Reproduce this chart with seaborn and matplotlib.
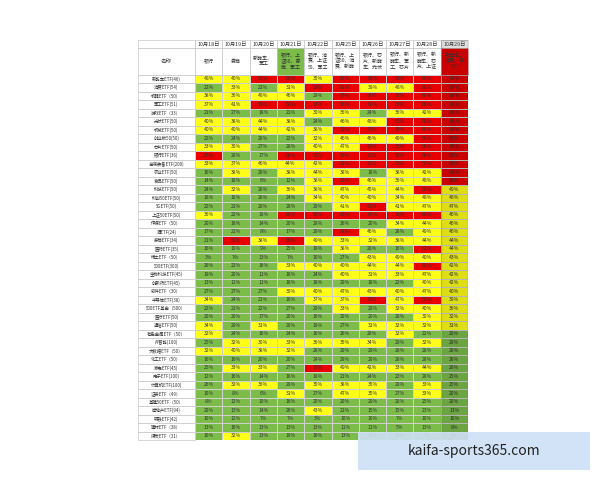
import matplotlib
matplotlib.use("Agg")
import matplotlib.pyplot as plt
import seaborn as sns
import numpy as np
import pandas as pd
from matplotlib.colors import ListedColormap, BoundaryNorm
from matplotlib.patches import Rectangle

dates = ["10月18日","10月19日","10月20日","10月21日","10月22日","10月25日","10月26日","10月27日","10月28日","10月29日"]
heads = ["银行","券商","新能车、\n军工","银行、上\n证50、券\n商、军工","银行、消\n费、上证\n50、军工","银行、上\n证50、消\n费、新能","银行、芯\n片、新能\n车、光伏","银行、新\n能车、军\n工、芯片","银行、新\n能车、芯\n片、上证","新能车、\n消费、游\n戏"]
names = ["新能车ETF(46)","消费ETF(54)","机器ETF（50）","军工ETF(51)","游戏ETF（33）","光伏ETF(50)","机械ETF(50)","创业板50(50)","芯片ETF(50)","银行ETF(36)","高端装备ETF(200)","农业ETF(50)","食品ETF(50)","科技ETF(50)","科创50ETF(50)","5GETF(50)","上证50ETF(50)","传媒ETF（50）","酒ETF(24)","券商ETF(34)","医药ETF(35)","稀土ETF（50）","500ETF(300)","生物科技ETF(45)","创新药ETF(45)","软件ETF（30）","半导体ETF(38)","500ETF基金（500）","医疗ETF(50)","通信ETF(50)","有色金属ETF（50）","AI智能(100)","大数据ETF（50）","化工ETF（50）","家电ETF(45)","电子ETF(100)","计算机ETF(100)","证券ETF（49）","基建50ETF（50）","房地产ETF(94)","钢铁ETF(42)","建材ETF（38）","煤炭ETF（31）"]
values = [
[48,40,53,56,35,60,65,58,60,65],
[22,33,22,31,52,61,39,48,61,67],
[38,36,48,46,29,56,58,60,60,60],
[37,41,55,58,57,56,62,57,60,62],
[21,27,18,21,30,36,24,36,42,60],
[40,38,44,38,24,46,48,55,58,60],
[40,40,44,42,38,52,56,58,60,60],
[22,24,28,22,32,46,46,49,56,58],
[33,30,27,28,40,47,52,55,58,60],
[56,28,17,58,52,56,56,58,58,58],
[33,37,46,44,42,52,55,56,55,58],
[16,38,28,38,44,38,18,38,42,60],
[14,18,6,12,38,52,46,36,48,58],
[24,32,28,36,38,47,45,44,52,49],
[18,18,28,24,34,40,40,34,48,48],
[22,21,29,28,29,41,52,41,47,47],
[36,22,18,60,56,62,60,58,60,46],
[20,18,14,20,28,26,20,34,44,46],
[17,21,8,17,29,58,46,28,49,46],
[21,60,38,56,49,33,32,38,44,44],
[16,19,9,25,18,38,28,16,52,44],
[3,7,13,7,10,27,43,49,40,43],
[26,22,16,33,40,40,44,44,52,42],
[18,20,11,18,24,40,31,33,47,42],
[13,11,11,18,18,29,18,22,40,42],
[27,27,27,30,40,47,43,40,47,40],
[34,24,21,16,37,37,55,47,55,39],
[22,21,22,27,29,33,29,32,40,36],
[20,20,17,20,16,29,20,28,30,32],
[34,29,31,20,19,27,31,32,32,31],
[32,24,16,24,16,26,28,32,22,29],
[25,32,30,33,36,35,34,29,32,29],
[32,40,38,32,28,29,29,28,28,28],
[16,16,20,20,24,29,29,28,28,26],
[25,33,33,27,60,49,42,33,44,29],
[12,16,14,18,18,21,24,22,28,25],
[26,32,36,29,35,38,35,29,33,25],
[10,8,6,31,27,47,35,27,33,20],
[8,12,10,16,20,20,29,20,25,20],
[20,13,14,26,43,21,15,15,23,13],
[10,12,7,7,3,10,10,7,10,10],
[13,16,13,13,13,11,11,5,13,8],
[16,32,13,19,16,13,10,13,6,6],
]

df = pd.DataFrame(values, index=names, columns=dates)
annot = df.map(lambda v: f"{v}%")

sns.set_theme(style="white")
plt.rcParams['font.family'] = ['Noto Sans CJK SC', 'DejaVu Sans']

fig = plt.figure(figsize=(6, 4.8), dpi=100)
ax = fig.add_axes([0.325, 0.083, 0.455, 0.834])
cmap = ListedColormap(["#7cbd4a", "#ffff1a", "#e80000"])
norm = BoundaryNorm([0, 30, 50, 101], 3)
sns.heatmap(df, ax=ax, cmap=cmap, norm=norm, cbar=False, annot=annot, fmt="",
            annot_kws={"fontsize": 3.6, "color": "#333333"},
            linewidths=0.4, linecolor="#d0d0d0")
ax.axvspan(9, 10, color="black", alpha=0.13, zorder=3)
ax.set_xticks([]); ax.set_yticks([])
ax.set_xlabel(""); ax.set_ylabel("")
ec = "#bbbbbb"
for i, (d, h) in enumerate(zip(dates, heads)):
    ax.add_patch(Rectangle((i, -4.1), 1, 1.0, facecolor="white", edgecolor=ec, lw=0.4, clip_on=False))
    ax.text(i + 0.5, -3.6, d, ha="center", va="center", fontsize=3.8, color="#333333")
    col = "#e80000" if i == 9 else ("#7cbd4a" if i == 3 else "white")
    ax.add_patch(Rectangle((i, -3.1), 1, 3.1, facecolor=col, edgecolor=ec, lw=0.4, clip_on=False))
    ax.text(i + 0.5, -1.6, h, ha="center", va="center", fontsize=3.6, color="#333333", clip_on=False)
ax.add_patch(Rectangle((-2.1, -4.1), 2.1, 1.0, facecolor="white", edgecolor=ec, lw=0.4, clip_on=False))
ax.add_patch(Rectangle((-2.1, -3.1), 2.1, 3.1, facecolor="white", edgecolor=ec, lw=0.4, clip_on=False))
ax.text(-1.05, -1.6, "名称", ha="center", va="center", fontsize=4, color="#333333")
for j, n in enumerate(names):
    ax.add_patch(Rectangle((-2.1, j), 2.1, 1, facecolor="white", edgecolor=ec, lw=0.4, clip_on=False))
    ax.text(-1.05, j + 0.5, n, ha="center", va="center", fontsize=3.2, color="#333333")
ax.set_ylim(len(names), -4.1)

fig.patches.append(Rectangle((0.597, 0.02), 0.386, 0.08, transform=fig.transFigure,
                             facecolor="#cfe0f7", alpha=0.9, edgecolor="none"))
fig.text(0.79, 0.06, "kaifa-sports365.com", ha="center", va="center", fontsize=10, color="#222222")

fig.savefig("out.png", dpi=100, facecolor="white")
